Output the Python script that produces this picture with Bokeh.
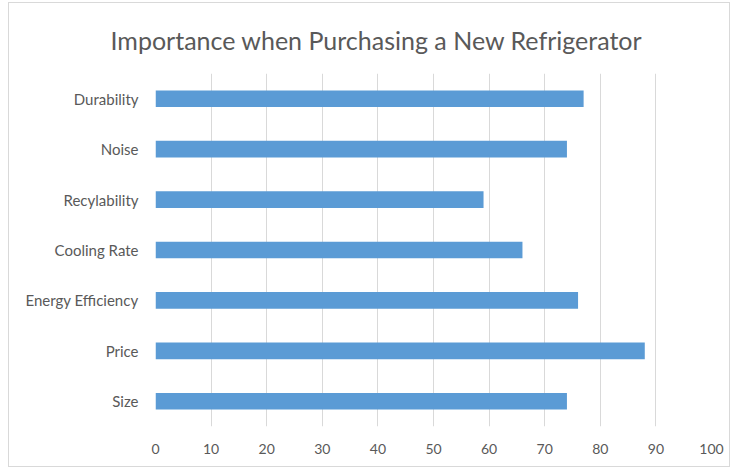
from bokeh.plotting import figure
from bokeh.models import FactorRange, Range1d, FixedTicker
from bokeh.embed import file_html
from bokeh.resources import INLINE

categories = ["Durability", "Noise", "Recylability", "Cooling Rate",
              "Energy Efficiency", "Price", "Size"]
values = [77, 74, 59, 66, 76, 88, 74]
x_ticks = [0, 10, 20, 30, 40, 50, 60, 70, 80, 90, 100]

FONT = "Lato"
GRAY = "#595959"

p = figure(width=720, height=463,
           y_range=FactorRange(factors=list(reversed(categories))),
           x_range=Range1d(0, 100),
           output_backend="svg", toolbar_location=None,
           min_border_left=146, min_border_right=18,
           min_border_top=0, min_border_bottom=40)

p.hbar(y=categories, right=values, left=0, height=0.33,
       fill_color="#5B9BD5", line_color=None)

p.title.text = "Importance when Purchasing a New Refrigerator"
p.title.align = "left"
p.title.text_font = FONT
p.title.text_font_style = "normal"
p.title.text_font_size = "25px"
p.title.text_color = GRAY
p.title.offset = -45
p.title.standoff = 38

p.xaxis.ticker = FixedTicker(ticks=x_ticks)
p.xgrid.ticker = FixedTicker(ticks=x_ticks)
p.xgrid.grid_line_color = "#d9d9d9"
p.ygrid.grid_line_color = None
p.outline_line_color = None

for ax in (p.xaxis[0], p.yaxis[0]):
    ax.axis_line_color = None
    ax.major_tick_line_color = None
    ax.minor_tick_line_color = None
    ax.major_label_text_font = FONT
    ax.major_label_text_color = GRAY
p.xaxis.major_label_text_font_size = "14px"
p.yaxis.major_label_text_font_size = "15px"
p.xaxis.major_label_standoff = 11
p.yaxis.major_label_standoff = 11

p.background_fill_color = "white"
p.border_fill_color = "white"
p.styles = {"outline": "1px solid #d9d9d9", "margin-left": "9px",
            "margin-top": "3px"}

open("out.html", "w").write(file_html(p, INLINE))
